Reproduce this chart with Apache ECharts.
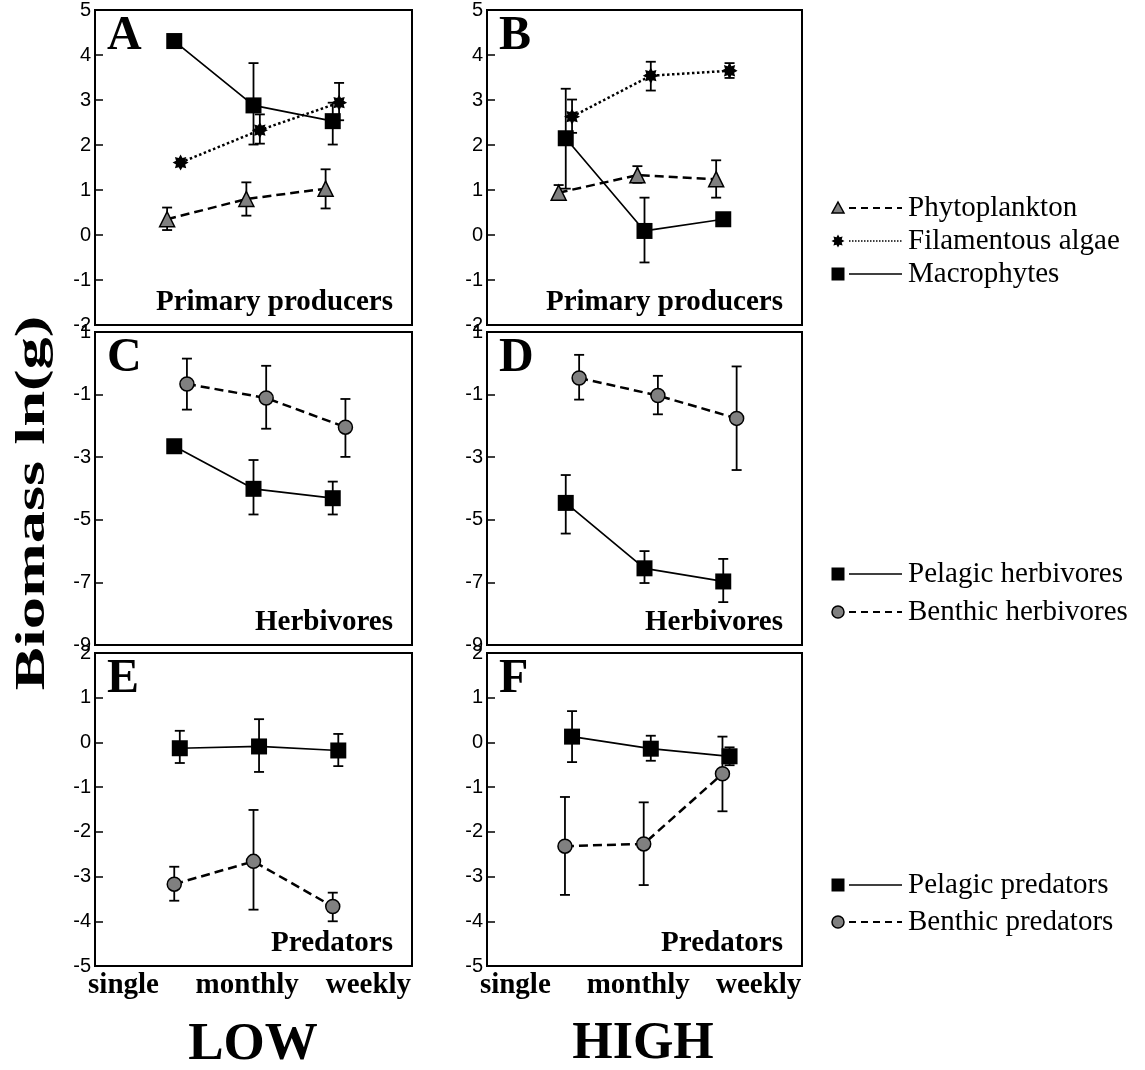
<!DOCTYPE html>
<html>
<head>
<meta charset="utf-8">
<script src="https://cdn.jsdelivr.net/npm/echarts@6/dist/echarts.min.js"></script>
<style>
html,body{margin:0;padding:0;background:#fff;}
#chart{width:1145px;height:1070px;}
</style>
</head>
<body>
<div id="chart"></div>
<script>
// ---------- DATA ----------
const xCategories = ['single', 'monthly', 'weekly'];
const xLabelValues = [0.36, 1.92, 3.45];
const xIndex = [1, 2, 3];

// Panel A (LOW, primary producers)
const A_phyto    = [0.35, 0.80, 1.03];
const A_phyto_lo = [0.11, 0.43, 0.59];
const A_phyto_hi = [0.61, 1.17, 1.46];
const A_fil      = [1.61, 2.33, 2.94];
const A_fil_lo   = [null, 2.03, 2.55];
const A_fil_hi   = [null, 2.68, 3.38];
const A_macro    = [4.31, 2.88, 2.53];
const A_macro_lo = [null, 2.01, 2.01];
const A_macro_hi = [null, 3.82, 2.94];

// Panel B (HIGH, primary producers)
const B_phyto    = [0.94, 1.33, 1.24];
const B_phyto_lo = [0.85, 1.16, 0.83];
const B_phyto_hi = [1.11, 1.53, 1.66];
const B_fil      = [2.63, 3.54, 3.65];
const B_fil_lo   = [2.27, 3.21, 3.49];
const B_fil_hi   = [3.01, 3.85, 3.82];
const B_macro    = [2.15, 0.09, 0.35];
const B_macro_lo = [1.03, -0.61, null];
const B_macro_hi = [3.25, 0.83, null];

// Panel C (LOW, herbivores)
const C_pel    = [-2.65, -4.01, -4.31];
const C_pel_lo = [null, -4.83, -4.83];
const C_pel_hi = [null, -3.09, -3.78];
const C_ben    = [-0.66, -1.11, -2.04];
const C_ben_lo = [-1.48, -2.09, -2.99];
const C_ben_hi = [0.15, -0.08, -1.14];

// Panel D (HIGH, herbivores)
const D_pel    = [-4.46, -6.55, -6.97];
const D_pel_lo = [-5.44, -7.02, -7.63];
const D_pel_hi = [-3.57, -6.00, -6.25];
const D_ben    = [-0.47, -1.03, -1.76];
const D_ben_lo = [-1.16, -1.63, -3.41];
const D_ben_hi = [0.27, -0.40, -0.10];

// Panel E (LOW, predators)
const E_pel    = [-0.13, -0.09, -0.18];
const E_pel_lo = [-0.46, -0.66, -0.53];
const E_pel_hi = [0.26, 0.52, 0.19];
const E_ben    = [-3.17, -2.66, -3.67];
const E_ben_lo = [-3.54, -3.74, -4.00];
const E_ben_hi = [-2.78, -1.51, -3.36];

// Panel F (HIGH, predators)
const F_pel    = [0.13, -0.14, -0.31];
const F_pel_lo = [-0.44, -0.41, -0.51];
const F_pel_hi = [0.70, 0.15, -0.11];
const F_ben    = [-2.32, -2.27, -0.70];
const F_ben_lo = [-3.41, -3.19, -1.54];
const F_ben_hi = [-1.22, -1.34, 0.13];

const legendPP   = ['Phytoplankton', 'Filamentous algae', 'Macrophytes'];
const legendHerb = ['Pelagic herbivores', 'Benthic herbivores'];
const legendPred = ['Pelagic predators', 'Benthic predators'];

// ---------- STYLES ----------
const SERIF = '"Liberation Serif","Times New Roman",serif';
const SANS = '"Liberation Sans",Arial,sans-serif';
const GREY = '#808080';

function starPath(n, r1, r2) {
  let d = '';
  for (let i = 0; i < n * 2; i++) {
    const r = i % 2 === 0 ? r1 : r2;
    const a = Math.PI * i / n - Math.PI / 2;
    d += (i === 0 ? 'M' : 'L') + (r * Math.cos(a)).toFixed(3) + ' ' + (r * Math.sin(a)).toFixed(3);
  }
  return d + 'Z';
}
const STAR = 'path://' + starPath(8, 10, 6.2);

const kinds = {
  phyto: {symbol: 'triangle', size: 15, color: GREY, border: '#000', bw: 1.5, line: [9, 5], lw: 2.5},
  fil:   {symbol: STAR, size: 16, color: '#000', border: '#000', bw: 0, line: [2.5, 2.5], lw: 2.5},
  macro: {symbol: 'rect', size: 16, color: '#000', border: '#000', bw: 0, line: 'solid', lw: 1.7},
  pel:   {symbol: 'rect', size: 16, color: '#000', border: '#000', bw: 0, line: 'solid', lw: 1.7},
  ben:   {symbol: 'circle', size: 14, color: GREY, border: '#000', bw: 1.5, line: [9, 5], lw: 2.5}
};

const panels = [
  {letter: 'A', grid: {left: 95, top: 10, width: 317, height: 315}, y: [-2, 5, 1], title: 'Primary producers', bottom: false,
   series: [
     {kind: 'phyto', name: legendPP[0], v: A_phyto, lo: A_phyto_lo, hi: A_phyto_hi, dx: -0.09},
     {kind: 'fil', name: legendPP[1], v: A_fil, lo: A_fil_lo, hi: A_fil_hi, dx: 0.08},
     {kind: 'macro', name: legendPP[2], v: A_macro, lo: A_macro_lo, hi: A_macro_hi, dx: 0}]},
  {letter: 'B', grid: {left: 487, top: 10, width: 315, height: 315}, y: [-2, 5, 1], title: 'Primary producers', bottom: false,
   series: [
     {kind: 'phyto', name: legendPP[0], v: B_phyto, lo: B_phyto_lo, hi: B_phyto_hi, dx: -0.09},
     {kind: 'fil', name: legendPP[1], v: B_fil, lo: B_fil_lo, hi: B_fil_hi, dx: 0.08},
     {kind: 'macro', name: legendPP[2], v: B_macro, lo: B_macro_lo, hi: B_macro_hi, dx: 0}]},
  {letter: 'C', grid: {left: 95, top: 332, width: 317, height: 313}, y: [-9, 1, 2], title: 'Herbivores', bottom: false,
   series: [
     {kind: 'ben', name: legendHerb[1], v: C_ben, lo: C_ben_lo, hi: C_ben_hi, dx: 0.16},
     {kind: 'pel', name: legendHerb[0], v: C_pel, lo: C_pel_lo, hi: C_pel_hi, dx: 0}]},
  {letter: 'D', grid: {left: 487, top: 332, width: 315, height: 313}, y: [-9, 1, 2], title: 'Herbivores', bottom: false,
   series: [
     {kind: 'ben', name: legendHerb[1], v: D_ben, lo: D_ben_lo, hi: D_ben_hi, dx: 0.17},
     {kind: 'pel', name: legendHerb[0], v: D_pel, lo: D_pel_lo, hi: D_pel_hi, dx: 0}]},
  {letter: 'E', grid: {left: 95, top: 653, width: 317, height: 313}, y: [-5, 2, 1], title: 'Predators', bottom: true,
   series: [
     {kind: 'ben', name: legendPred[1], v: E_ben, lo: E_ben_lo, hi: E_ben_hi, dx: 0},
     {kind: 'pel', name: legendPred[0], v: E_pel, lo: E_pel_lo, hi: E_pel_hi, dx: 0.07}]},
  {letter: 'F', grid: {left: 487, top: 653, width: 315, height: 313}, y: [-5, 2, 1], title: 'Predators', bottom: true,
   series: [
     {kind: 'ben', name: legendPred[1], v: F_ben, lo: F_ben_lo, hi: F_ben_hi, dx: -0.01},
     {kind: 'pel', name: legendPred[0], v: F_pel, lo: F_pel_lo, hi: F_pel_hi, dx: 0.08}]}
];

// ---------- BUILD ----------
function renderErr(params, api) {
  const x = api.value(0), lo = api.value(1), hi = api.value(2);
  const p1 = api.coord([x, hi]);
  const p2 = api.coord([x, lo]);
  const w = 5;
  const st = {stroke: '#000', lineWidth: 1.8};
  return {type: 'group', children: [
    {type: 'line', shape: {x1: p1[0], y1: p1[1], x2: p2[0], y2: p2[1]}, style: st},
    {type: 'line', shape: {x1: p1[0] - w, y1: p1[1], x2: p1[0] + w, y2: p1[1]}, style: st},
    {type: 'line', shape: {x1: p2[0] - w, y1: p2[1], x2: p2[0] + w, y2: p2[1]}, style: st}
  ]};
}

const grid = [], xAxis = [], yAxis = [], series = [], graphic = [];

panels.forEach((p, gi) => {
  grid.push(Object.assign({show: true, borderColor: '#000', borderWidth: 2, backgroundColor: 'transparent'}, p.grid));
  xAxis.push({
    type: 'value', gridIndex: gi, min: 0, max: 4,
    axisLine: {show: false}, axisTick: {show: false}, splitLine: {show: false},
    axisLabel: p.bottom ? {
      show: true, customValues: xLabelValues, margin: 5,
      color: '#000', fontFamily: SERIF, fontWeight: 'bold', fontSize: 29,
      formatter: function (v) {
        let best = 0;
        xLabelValues.forEach((lv, i) => { if (Math.abs(lv - v) < Math.abs(xLabelValues[best] - v)) best = i; });
        return xCategories[best];
      }
    } : {show: false}
  });
  yAxis.push({
    type: 'value', gridIndex: gi, min: p.y[0], max: p.y[1], interval: p.y[2],
    axisLine: {show: false}, splitLine: {show: false},
    axisTick: {show: true, inside: true, length: 8, lineStyle: {color: '#000', width: 1.5}},
    axisLabel: {show: true, showMinLabel: true, showMaxLabel: true, margin: 4, color: '#000', fontFamily: SANS, fontSize: 20}
  });
  p.series.forEach(s => {
    series.push({
      type: 'custom', name: s.name, xAxisIndex: gi, yAxisIndex: gi, z: 2, silent: true,
      renderItem: renderErr,
      data: xIndex.map((x, i) => s.lo[i] == null ? null : [x + s.dx, s.lo[i], s.hi[i]]).filter(d => d)
    });
  });
  p.series.forEach(s => {
    const k = kinds[s.kind];
    series.push({
      type: 'line', name: s.name, xAxisIndex: gi, yAxisIndex: gi, z: 3,
      data: xIndex.map((x, i) => [x + s.dx, s.v[i]]),
      symbol: k.symbol, symbolSize: k.size, showAllSymbol: true,
      itemStyle: {color: k.color, borderColor: k.border, borderWidth: k.bw, opacity: 1},
      lineStyle: {color: '#000', width: k.lw, type: k.line},
      animation: false
    });
  });
  graphic.push({type: 'text', x: p.grid.left + 12, y: p.grid.top + 27,
    style: {text: p.letter, font: 'bold 48px ' + SERIF, fill: '#000', align: 'left', verticalAlign: 'middle'}});
  graphic.push({type: 'text', x: p.grid.left + p.grid.width - 19, y: p.grid.top + p.grid.height - 22,
    style: {text: p.title, font: 'bold 29px ' + SERIF, fill: '#000', align: 'right', verticalAlign: 'middle'}});
});

graphic.push({type: 'text', x: 33, y: 503, rotation: Math.PI / 2, scaleX: 1.5,
  style: {text: 'Biomass ln(g)', font: 'bold 43px ' + SERIF, fill: '#000', align: 'center', verticalAlign: 'middle'}});
graphic.push({type: 'text', x: 253, y: 1045,
  style: {text: 'LOW', font: 'bold 53px ' + SERIF, fill: '#000', align: 'center', verticalAlign: 'middle'}});
graphic.push({type: 'text', x: 643, y: 1045,
  style: {text: 'HIGH', font: 'bold 52px ' + SERIF, fill: '#000', align: 'center', verticalAlign: 'middle'}});

function legendItem(kindKey, name, y) {
  const k = kinds[kindKey];
  const cx = 838;
  let sym;
  if (kindKey === 'phyto') {
    sym = {type: 'polygon', shape: {points: [[cx, y - 6], [cx + 6, y + 5], [cx - 6, y + 5]]}, style: {fill: GREY, stroke: '#000', lineWidth: 1.5}};
  } else if (kindKey === 'fil') {
    const pts = [];
    for (let i = 0; i < 16; i++) { const r = i % 2 ? 4 : 6.5; const a = Math.PI * i / 8 - Math.PI / 2; pts.push([cx + r * Math.cos(a), y + r * Math.sin(a)]); }
    sym = {type: 'polygon', shape: {points: pts}, style: {fill: '#000'}};
  } else if (kindKey === 'ben') {
    sym = {type: 'circle', shape: {cx: cx, cy: y, r: 6}, style: {fill: GREY, stroke: '#000', lineWidth: 1.5}};
  } else {
    sym = {type: 'rect', shape: {x: cx - 6.5, y: y - 6.5, width: 13, height: 13}, style: {fill: '#000'}};
  }
  graphic.push(sym);
  const lw = kindKey === 'fil' ? 1.5 : (k.line === 'solid' ? 1.5 : 2);
  const dash = kindKey === 'fil' ? [1.5, 1.5] : (k.line === 'solid' ? null : [7, 5]);
  graphic.push({type: 'line', shape: {x1: 849, y1: y, x2: 902, y2: y}, style: {stroke: '#000', lineWidth: lw, lineDash: dash}});
  graphic.push({type: 'text', x: 908, y: y,
    style: {text: name, font: '29px ' + SERIF, fill: '#000', align: 'left', verticalAlign: 'middle'}});
}
legendItem('phyto', legendPP[0], 208);
legendItem('fil', legendPP[1], 241);
legendItem('macro', legendPP[2], 274);
legendItem('pel', legendHerb[0], 574);
legendItem('ben', legendHerb[1], 612);
legendItem('pel', legendPred[0], 885);
legendItem('ben', legendPred[1], 922);

const chart = echarts.init(document.getElementById('chart'), null, {renderer: 'canvas'});
chart.setOption({
  animation: false,
  backgroundColor: '#fff',
  grid: grid, xAxis: xAxis, yAxis: yAxis, series: series, graphic: graphic
});
</script>
</body>
</html>
